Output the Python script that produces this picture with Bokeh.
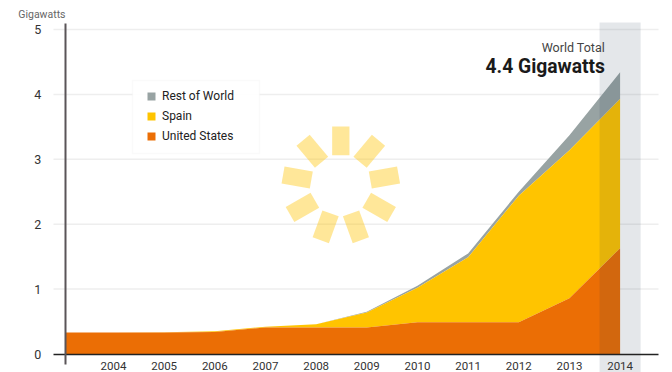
import numpy as np
from bokeh.plotting import figure
from bokeh.models import FixedTicker, Label, Legend, LegendItem, BoxAnnotation, AllLabels
from bokeh.embed import file_html
from bokeh.resources import INLINE

years = [2003.05, 2004, 2005, 2006, 2007, 2008, 2009, 2010, 2011, 2012, 2013, 2014]
united_states = [0.33, 0.33, 0.33, 0.34, 0.41, 0.41, 0.41, 0.49, 0.49, 0.49, 0.86, 1.63]
spain_top = [0.33, 0.33, 0.335, 0.35, 0.42, 0.46, 0.64, 1.02, 1.49, 2.44, 3.14, 3.93]
world_top = [0.33, 0.33, 0.335, 0.35, 0.42, 0.46, 0.65, 1.05, 1.55, 2.50, 3.37, 4.34]
baseline = [0.0] * len(years)
x_ticks = [2004, 2005, 2006, 2007, 2008, 2009, 2010, 2011, 2012, 2013, 2014]
y_ticks = [0, 1, 2, 3, 4, 5]
FONT = "Roboto"

px = lambda X: 2004 + (X - 113) / 50.66
py = lambda Y: (353.5 - Y) / 64.9

p = figure(width=672, height=372, output_backend="svg", toolbar_location=None,
           x_range=(px(0), px(672)), y_range=(py(372), py(0)),
           min_border_left=0, min_border_right=0, min_border_top=0, min_border_bottom=0)
p.outline_line_color = None
p.background_fill_color = "white"
p.xgrid.visible = False
p.ygrid.visible = False

# horizontal rules
p.segment([px(53)] * 5, y_ticks[1:], [px(658)] * 5, y_ticks[1:], line_color="#eeeeee", line_width=1.5)

# sun emblem
ang = np.deg2rad(np.arange(0, 360, 40))
cx, cy, r = px(340.3), py(184.7), 44.3
p.rect(cx + r * np.sin(ang) / 50.66, cy + r * np.cos(ang) / 64.9, width=17.3, height=28.7,
       width_units="screen", height_units="screen", angle=-ang,
       fill_color="#ffc400", fill_alpha=0.4, line_color=None)

rw = p.varea(years, spain_top, world_top, fill_color="#98a3a3")
sp = p.varea(years, united_states, spain_top, fill_color="#ffc400")
us = p.varea(years, baseline, united_states, fill_color="#eb6e05")

p.vbar(x=[2014], width=0.81, bottom=py(372), top=py(22), fill_color="#1e3750", fill_alpha=0.12, line_color=None)

xa = p.xaxis[0]
xa.ticker = FixedTicker(ticks=x_ticks)
xa.fixed_location = 0
xa.bounds = (px(53), px(658))
xa.axis_line_color = "#222222"
xa.axis_line_width = 1.5
xa.major_tick_line_color = None
xa.minor_tick_line_color = None
xa.major_label_standoff = 2
xa.major_label_text_font = FONT
xa.major_label_text_font_size = "11.5px"
xa.major_label_text_color = "#333333"

ya = p.yaxis[0]
ya.ticker = FixedTicker(ticks=y_ticks)
ya.fixed_location = 2003.05
ya.bounds = (py(364), py(23))
ya.axis_line_color = "#5a5558"
ya.axis_line_width = 2
ya.major_tick_line_color = None
ya.minor_tick_line_color = None
ya.major_label_standoff = 18
ya.major_label_policy = AllLabels()
ya.major_label_text_font = FONT
ya.major_label_text_font_size = "12.5px"
ya.major_label_text_color = "#333333"

p.add_layout(BoxAnnotation(left=px(132), right=px(259), top=py(80), bottom=py(153),
                           fill_color="white", fill_alpha=0.9, line_color="#eeeeee", line_width=1.5))
legend = Legend(items=[LegendItem(label="Rest of World", renderers=[rw]),
                       LegendItem(label="Spain", renderers=[sp]),
                       LegendItem(label="United States", renderers=[us])],
                location=(146, 229), orientation="vertical", margin=0, padding=0, spacing=6,
                glyph_width=10, glyph_height=10, label_standoff=6,
                label_text_font=FONT, label_text_font_size="12px", label_text_color="#222222",
                label_height=13, border_line_color=None, background_fill_alpha=0)
p.add_layout(legend, "center")

p.add_layout(Label(x=px(65), y=py(20), text="Gigawatts", text_font=FONT, text_font_size="10.5px",
                   text_color="#666666", text_align="right", text_baseline="bottom"))
p.add_layout(Label(x=px(604.5), y=py(54.5), text="World Total", text_font=FONT, text_font_size="12.5px",
                   text_color="#444444", text_align="right", text_baseline="bottom"))
p.add_layout(Label(x=px(604.5), y=py(77.5), text="4.4 Gigawatts", text_font=FONT, text_font_size="19.3px",
                   text_font_style="bold", text_color="#1a1a1a", text_align="right", text_baseline="bottom"))

open("out.html", "w").write(file_html(p, INLINE))
